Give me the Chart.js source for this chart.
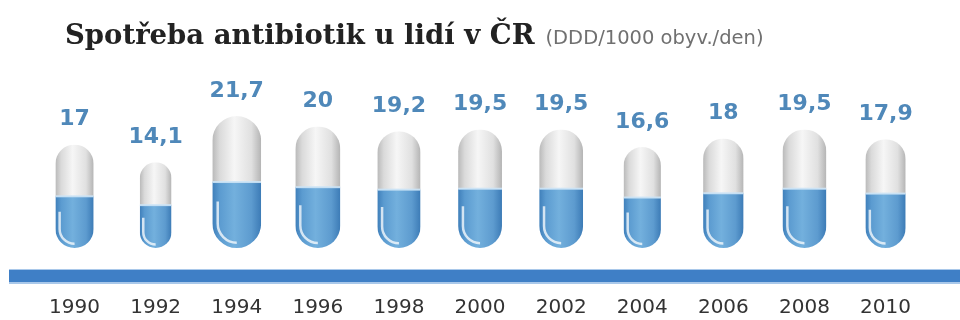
<!DOCTYPE html>
<html lang="cs">
<head>
<meta charset="utf-8">
<title>Spotřeba antibiotik u lidí v ČR</title>
<script src="https://cdn.jsdelivr.net/npm/chart.js@4/dist/chart.umd.min.js"></script>
<style>
html,body{margin:0;padding:0;background:#fff;}
canvas{display:block;}
</style>
</head>
<body>
<canvas id="graf" width="960" height="320"></canvas>
<script>

/* data */
const roky = ["1990","1992","1994","1996","1998","2000","2002","2004","2006","2008","2010"];
const spotreba = [17, 14.1, 21.7, 20, 19.2, 19.5, 19.5, 16.6, 18, 19.5, 17.9];
const yMax = 25;

const nadpis = "Spotřeba antibiotik u lidí v ČR";
const podnadpis = "(DDD/1000 obyv./den)";

/* kapsle: horni bila a dolni modra pulka */
function kapsle(ctx, cx, top, bottom, w){
  const r = w/2;
  const left = cx - r, right = cx + r;
  const mid = top + (bottom - top)*0.5;

  ctx.save();
  ctx.beginPath();
  ctx.moveTo(left, top + r);
  ctx.arc(cx, top + r, r, Math.PI, 0);
  ctx.lineTo(right, bottom - r);
  ctx.arc(cx, bottom - r, r, 0, Math.PI);
  ctx.closePath();
  ctx.clip();

  const bila = ctx.createLinearGradient(left, 0, right, 0);
  bila.addColorStop(0, "#b9b9b9");
  bila.addColorStop(0.15, "#dadada");
  bila.addColorStop(0.45, "#f6f6f6");
  bila.addColorStop(0.8, "#e0e0e0");
  bila.addColorStop(1, "#b4b4b4");
  ctx.fillStyle = bila;
  ctx.fillRect(left, top, w, mid - top);

  const modra = ctx.createLinearGradient(left, 0, right, 0);
  modra.addColorStop(0, "#3f7fba");
  modra.addColorStop(0.15, "#5b9bd0");
  modra.addColorStop(0.45, "#73b0dd");
  modra.addColorStop(0.8, "#5d9bcf");
  modra.addColorStop(1, "#3c7bb6");
  ctx.fillStyle = modra;
  ctx.fillRect(left, mid, w, bottom - mid);

  // svetly spoj
  ctx.fillStyle = "rgba(205,228,246,0.9)";
  ctx.fillRect(left, mid - 1, w, 2);

  // odlesk dole vlevo
  ctx.strokeStyle = "rgba(255,255,255,0.75)";
  ctx.lineWidth = 2.5;
  ctx.beginPath();
  ctx.moveTo(cx - r*0.78, bottom - r - r*0.9);
  ctx.lineTo(cx - r*0.78, bottom - r);
  ctx.arc(cx, bottom - r, r*0.78, Math.PI, Math.PI*0.5, true);
  ctx.stroke();
  ctx.restore();
}

const kapslePlugin = {
  id: "kapsle",
  beforeDatasetsDraw(chart){
    const ctx = chart.ctx;
    const y = chart.chartArea.bottom + 28;
    ctx.save();
    ctx.fillStyle = "#a9c8ea";
    ctx.fillRect(9, y - 7, chart.width - 9, 15);
    ctx.fillStyle = "#3f7fc6";
    ctx.fillRect(9, y - 6, chart.width - 9, 12);
    ctx.restore();
  },
  afterDatasetsDraw(chart){
    const ctx = chart.ctx;
    const meta = chart.getDatasetMeta(0);
    meta.data.forEach(function(bar, i){
      const h = bar.base - bar.y;
      kapsle(ctx, bar.x, bar.y, bar.base, h*0.37);

      ctx.save();
      ctx.fillStyle = "#4f88b9";
      ctx.font = "bold 22px 'DejaVu Sans'";
      ctx.textAlign = "center";
      ctx.textBaseline = "middle";
      ctx.fillText(String(spotreba[i]).replace(".", ","), bar.x, bar.y - 25);
      ctx.restore();
    });
  },
  afterDraw(chart){
    const ctx = chart.ctx;
    ctx.save();
    ctx.textBaseline = "alphabetic";
    ctx.textAlign = "left";
    ctx.fillStyle = "#222";
    ctx.font = "bold 27.5px 'DejaVu Serif'";
    ctx.fillText(nadpis, 65, 44);
    const sirka = ctx.measureText(nadpis).width;
    ctx.fillStyle = "#707070";
    ctx.font = "19.5px 'DejaVu Sans'";
    ctx.fillText(podnadpis, 65 + sirka + 11, 44);
    ctx.restore();
  }
};

new Chart(document.getElementById("graf"), {
  type: "bar",
  data: {
    labels: roky,
    datasets: [{
      data: spotreba,
      backgroundColor: "rgba(0,0,0,0)",
      borderWidth: 0
    }]
  },
  options: {
    responsive: false,
    animation: false,
    layout: {
      padding: {top: 96, left: 34, right: 22, bottom: 0}
    },
    plugins: {
      legend: {display: false},
      tooltip: {enabled: false}
    },
    scales: {
      y: {
        display: false,
        min: 0,
        max: yMax
      },
      x: {
        grid: {display: false, drawTicks: false},
        border: {display: false},
        afterFit: function(scale){ scale.height = 72; },
        ticks: {
          padding: 48,
          color: "#333",
          font: {family: "DejaVu Sans", size: 20}
        }
      }
    }
  },
  plugins: [kapslePlugin]
});

</script>
</body>
</html>
